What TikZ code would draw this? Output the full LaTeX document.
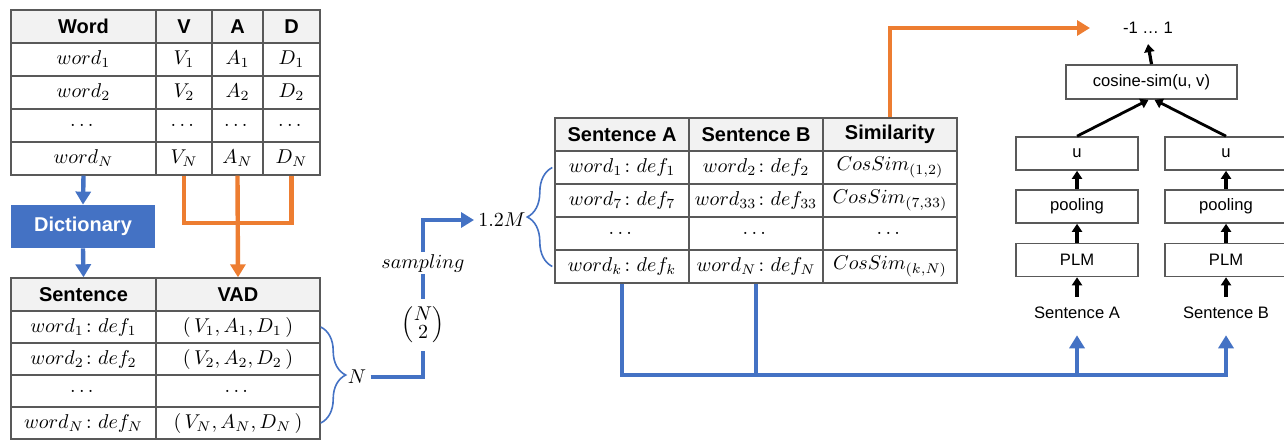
\documentclass[tikz,border=0pt]{standalone}
\usepackage{amsmath}
\usepackage{fontspec}
\setsansfont{Liberation Sans}
\usetikzlibrary{arrows.meta,decorations.pathreplacing}

\definecolor{vadblue}{HTML}{4472C4}
\definecolor{vadorange}{HTML}{ED7D31}
\definecolor{tabline}{HTML}{595959}
\definecolor{headfill}{HTML}{F2F2F2}

\tikzset{
  cell/.style={draw=tabline, line width=0.7pt, inner sep=0pt, minimum height=16.5pt},
  head/.style={cell, fill=headfill, font=\sffamily\bfseries},
  bline/.style={draw=vadblue, line width=2.2pt},
  oline/.style={draw=vadorange, line width=2.2pt},
  btip/.style={-{Triangle[width=7.5pt,length=6.5pt]}},
  box/.style={draw=tabline, line width=0.8pt, minimum width=61pt, minimum height=16.5pt,
    font=\sffamily\fontsize{8.3}{10}\selectfont},
  lab/.style={font=\sffamily\fontsize{8.3}{10}\selectfont, inner ysep=5pt},
  karrow/.style={-{Triangle[width=5pt,length=4pt]}, line width=1.6pt},
  vbrace/.style={draw=vadblue, line width=0.8pt, decorate, decoration={brace, amplitude=12.5pt}},
}

\begin{document}
\begin{tikzpicture}[x=0.5pt, y=-0.5pt]
    \useasboundingbox (0,0) rectangle (1284,440);

    % word / VAD lexicon
    \node[head, minimum width=72.5pt] at (83.5,26.5) (W0) {Word};
    \node[head, minimum width=28pt] at (184,26.5) (V0) {V};
    \node[head, minimum width=25.5pt] at (237.5,26.5) (A0) {A};
    \node[head, minimum width=28.5pt] at (291.5,26.5) (D0) {D};
    \node[cell, minimum width=72.5pt] at (83.5,59.5) (W1) {$word_1$};
    \node[cell, minimum width=28pt] at (184,59.5) (V1) {$V_1$};
    \node[cell, minimum width=25.5pt] at (237.5,59.5) (A1) {$A_1$};
    \node[cell, minimum width=28.5pt] at (291.5,59.5) (D1) {$D_1$};
    \node[cell, minimum width=72.5pt] at (83.5,92.5) (W2) {$word_2$};
    \node[cell, minimum width=28pt] at (184,92.5) (V2) {$V_2$};
    \node[cell, minimum width=25.5pt] at (237.5,92.5) (A2) {$A_2$};
    \node[cell, minimum width=28.5pt] at (291.5,92.5) (D2) {$D_2$};
    \node[cell, minimum width=72.5pt] at (83.5,125.5) (W3) {$\dots$};
    \node[cell, minimum width=28pt] at (184,125.5) (V3) {$\dots$};
    \node[cell, minimum width=25.5pt] at (237.5,125.5) (A3) {$\dots$};
    \node[cell, minimum width=28.5pt] at (291.5,125.5) (D3) {$\dots$};
    \node[cell, minimum width=72.5pt] at (83.5,158.5) (W4) {$word_N$};
    \node[cell, minimum width=28pt] at (184,158.5) (V4) {$V_N$};
    \node[cell, minimum width=25.5pt] at (237.5,158.5) (A4) {$A_N$};
    \node[cell, minimum width=28.5pt] at (291.5,158.5) (D4) {$D_N$};

    \node[fill=vadblue, text=white, font=\sffamily\bfseries, minimum width=72pt, minimum height=21.5pt] at (83,226.5) (dict) {Dictionary};

    % sentence / VAD table
    \node[head, minimum width=72.5pt] at (83.5,294.5) (S0) {Sentence};
    \node[head, minimum width=82pt] at (238,294.5) (X0) {VAD};
    \node[cell, minimum width=72.5pt, minimum height=16pt] at (83.5,327) (S1) {$word_1\colon def_1$};
    \node[cell, minimum width=82pt, minimum height=16pt] at (238,327) (X1) {$(\,V_1,A_1,D_1\,)$};
    \node[cell, minimum width=72.5pt, minimum height=16pt] at (83.5,359) (S2) {$word_2\colon def_2$};
    \node[cell, minimum width=82pt, minimum height=16pt] at (238,359) (X2) {$(\,V_2,A_2,D_2\,)$};
    \node[cell, minimum width=72.5pt, minimum height=16pt] at (83.5,391) (S3) {$\dots$};
    \node[cell, minimum width=82pt, minimum height=16pt] at (238,391) (X3) {$\dots$};
    \node[cell, minimum width=72.5pt, minimum height=16pt] at (83.5,423) (S4) {$word_N\colon def_N$};
    \node[cell, minimum width=82pt, minimum height=16pt] at (238,423) (X4) {$(\,V_N,A_N,D_N\,)$};

    % pair table
    \node[head, minimum width=67pt] at (622,134.5) (SA0) {Sentence A};
    \node[head, minimum width=67pt] at (756,134.5) (SB0) {Sentence B};
    \node[head, minimum width=67pt] at (890,134.5) (SM0) {Similarity};
    \node[cell, minimum width=67pt] at (622,167.5) (SA1) {$word_1\colon def_1$};
    \node[cell, minimum width=67pt] at (756,167.5) (SB1) {$word_2\colon def_2$};
    \node[cell, minimum width=67pt] at (890,167.5) (SM1) {$CosSim_{(1,2)}$};
    \node[cell, minimum width=67pt] at (622,200.5) (SA2) {$word_7\colon def_7$};
    \node[cell, minimum width=67pt] at (756,200.5) (SB2) {$word_{33}\colon def_{33}$};
    \node[cell, minimum width=67pt] at (890,200.5) (SM2) {$CosSim_{(7,33)}$};
    \node[cell, minimum width=67pt] at (622,233.5) (SA3) {$\dots$};
    \node[cell, minimum width=67pt] at (756,233.5) (SB3) {$\dots$};
    \node[cell, minimum width=67pt] at (890,233.5) (SM3) {$\dots$};
    \node[cell, minimum width=67pt] at (622,266.5) (SA4) {$word_k\colon def_k$};
    \node[cell, minimum width=67pt] at (756,266.5) (SB4) {$word_N\colon def_N$};
    \node[cell, minimum width=67pt] at (890,266.5) (SM4) {$CosSim_{(k,N)}$};

    % sampling
    \node[inner sep=2pt] at (357,377) (N) {$N$};
    \node[inner xsep=0pt, inner ysep=2.5pt] at (423,325) (bin) {$\Bigl(\begin{array}{@{}c@{}}N\\[-3pt]2\end{array}\Bigr)$};
    \node[inner sep=1pt] at (423,263) (samp) {$sampling$};
    \node[inner sep=2pt] at (502,220) (M) {$1.2M$};

    % siamese encoder
    \node[lab] at (1148,28) (range) {-1 \dots\ 1};
    \node[box, minimum width=85.5pt, minimum height=17pt] at (1151.5,82) (cos) {cosine-sim(u, v)};
    \node[box] at (1077,153.5) (uA) {u};
    \node[box] at (1226,153.5) (uB) {u};
    \node[box] at (1077,206.5) (poolA) {pooling};
    \node[box] at (1226,206.5) (poolB) {pooling};
    \node[box] at (1077,260) (plmA) {PLM};
    \node[box] at (1226,260) (plmB) {PLM};
    \node[lab] at (1077,313) (sentA) {Sentence A};
    \node[lab] at (1226,313) (sentB) {Sentence B};
    \coordinate (rtip) at (1090,28);
    \coordinate (jb) at (1226,375);

    \draw[bline, btip] (W4.south) -- (dict.north);
    \draw[bline, btip] (dict.south) -- (S0.north);
    \draw[oline] (V4.south) |- (A4.south |- 0,223) -| (D4.south);
    \draw[oline, btip] (A4.south) -- (X0.north);

    \draw[vbrace] (X1.east) -- (X4.east);
    \draw[bline] (N.east) -| (bin.south);
    \draw[bline] (bin.north) -- (samp.south);
    \draw[bline, btip] (samp.north) |- (M.west);
    \draw[vbrace] ([xshift=-1pt]SA4.west) -- ([xshift=-1pt]SA1.west);

    \draw[oline, btip] (SM0.north) |- (rtip);
    \draw[bline, btip, shorten >=3pt] (SA4.south) |- (jb) -- (sentB.south);
    \draw[bline] (SB4.south) -- (SB4.south |- jb);
    \draw[bline, btip, shorten >=3pt] (sentA.south |- jb) -- (sentA.south);

    \draw[karrow] (sentA.north) -- (plmA.south);
    \draw[karrow] (sentB.north) -- (plmB.south);
    \draw[karrow] (plmA.north) -- (poolA.south);
    \draw[karrow] (plmB.north) -- (poolB.south);
    \draw[karrow] (poolA.north) -- (uA.south);
    \draw[karrow] (poolB.north) -- (uB.south);
    \draw[karrow, line width=1.4pt] (uA.north) -- ([xshift=-1.5pt]cos.south);
    \draw[karrow, line width=1.4pt] (uB.north) -- ([xshift=1.5pt]cos.south);
    \draw[karrow] (cos.north) -- (range.south);
\end{tikzpicture}
\end{document}
